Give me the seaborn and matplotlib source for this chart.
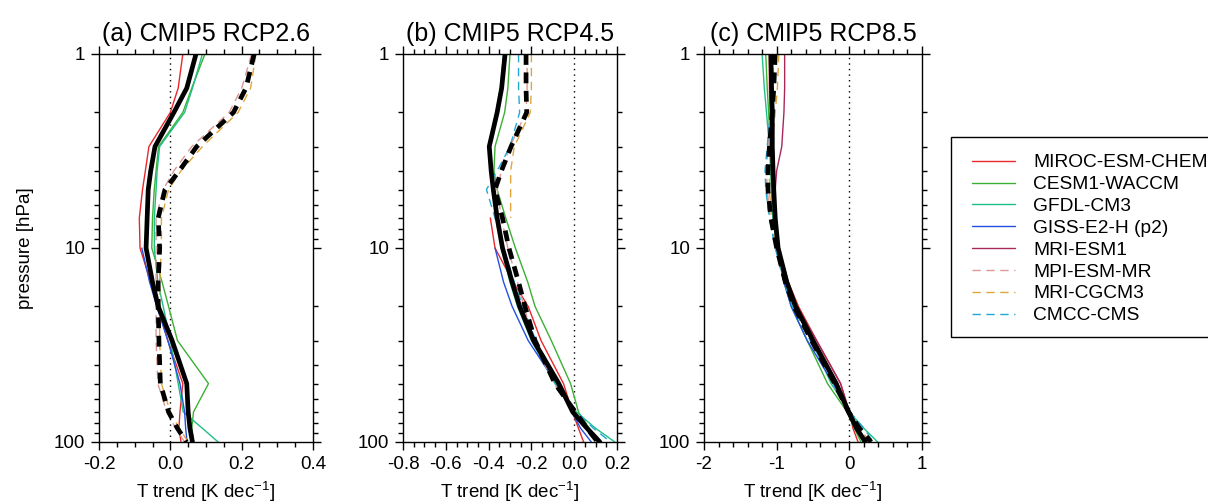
import numpy as np
import pandas as pd
import matplotlib
matplotlib.use("Agg")
import matplotlib.pyplot as plt
import matplotlib.ticker as mticker
from matplotlib.lines import Line2D
from matplotlib.patches import Rectangle
import seaborn as sns

nan = np.nan

# ---------------- data ----------------
pressure = [1, 1.5, 2, 3, 4, 5, 7, 10, 15, 20, 30, 50, 70, 85, 100]

models = ["MIROC-ESM-CHEM", "CESM1-WACCM", "GFDL-CM3", "GISS-E2-H (p2)",
          "MRI-ESM1", "MPI-ESM-MR", "MRI-CGCM3", "CMCC-CMS"]
model_colors = ["#e8282c", "#3cb034", "#1fbf86", "#2450e0",
                "#a8285a", "#dc9898", "#e0a63a", "#22a8d2"]
model_dashed = [False, False, False, False, False, True, True, True]

titles = ["(a) CMIP5 RCP2.6", "(b) CMIP5 RCP4.5", "(c) CMIP5 RCP8.5"]

rcp26 = {
    "MIROC-ESM-CHEM": [0.035, 0.022, 0.0, -0.06, -0.07, -0.078, -0.087, -0.085, -0.055, -0.035, -0.007, 0.035, 0.027, 0.024, 0.03],
    "CESM1-WACCM":    [0.097, 0.06, 0.035, -0.033, -0.04, -0.045, -0.05, -0.052, -0.023, -0.005, 0.02, 0.107, 0.065, 0.06, 0.065],
    "GFDL-CM3":       [0.09, 0.062, 0.04, -0.03, -0.037, -0.04, -0.045, -0.045, -0.035, -0.02, 0.0, 0.022, 0.036, 0.09, 0.134],
    "GISS-E2-H (p2)": [nan, nan, nan, nan, nan, nan, nan, -0.08, -0.058, -0.038, -0.007, 0.027, 0.04, 0.043, 0.047],
    "MPI-ESM-MR":     [0.228, 0.2, 0.165, 0.06, 0.01, -0.02, -0.04, -0.04, -0.04, -0.04, -0.04, -0.035, -0.01, 0.015, 0.04],
    "MRI-CGCM3":      [0.24, 0.225, 0.19, 0.09, 0.03, -0.005, -0.025, -0.025, -0.03, -0.03, -0.03, -0.025, 0.0, 0.025, 0.05],
}
rcp26_mean_solid = [0.072, 0.046, 0.01, -0.043, -0.055, -0.062, -0.065, -0.068, -0.05, -0.034, 0.005, 0.046, 0.05, 0.055, 0.062]
rcp26_mean_dashed = [0.235, 0.212, 0.177, 0.074, 0.025, -0.015, -0.034, -0.03, -0.034, -0.034, -0.032, -0.028, -0.005, 0.02, 0.045]

rcp45 = {
    "MIROC-ESM-CHEM": [nan, nan, nan, nan, nan, nan, -0.392, -0.37, -0.285, -0.215, -0.155, -0.05, -0.008, 0.02, 0.044],
    "CESM1-WACCM":    [-0.3, -0.31, -0.325, -0.37, -0.375, -0.36, -0.32, -0.275, -0.217, -0.183, -0.107, -0.017, 0.02, 0.07, 0.12],
    "GFDL-CM3":       [-0.33, -0.345, -0.365, -0.4, -0.39, -0.38, -0.36, -0.34, -0.3, -0.265, -0.2, -0.09, 0.01, 0.1, 0.19],
    "GISS-E2-H (p2)": [nan, nan, nan, nan, nan, nan, nan, -0.37, -0.33, -0.29, -0.215, -0.083, -0.01, 0.03, 0.08],
    "MPI-ESM-MR":     [-0.22, -0.22, -0.225, -0.3, -0.34, -0.36, -0.34, -0.31, -0.265, -0.235, -0.19, -0.095, 0.0, 0.05, 0.1],
    "MRI-CGCM3":      [-0.2, -0.2, -0.205, -0.28, -0.297, -0.297, -0.297, nan, nan, nan, nan, nan, nan, nan, nan],
    "CMCC-CMS":       [-0.26, -0.26, -0.255, -0.3, -0.36, -0.41, -0.37, -0.33, -0.28, -0.24, -0.18, -0.085, 0.01, 0.09, 0.17],
}
rcp45_mean_solid = [-0.323, -0.339, -0.36, -0.397, -0.388, -0.378, -0.36, -0.335, -0.29, -0.255, -0.19, -0.072, -0.007, 0.06, 0.12]
rcp45_mean_dashed = [-0.225, -0.225, -0.222, -0.295, -0.34, -0.37, -0.335, -0.305, -0.26, -0.23, -0.183, -0.09, 0.005, 0.06, 0.11]

rcp85 = {
    "MIROC-ESM-CHEM": [-1.1, -1.1, -1.09, -1.08, -1.07, -1.06, -1.04, -0.97, -0.84, -0.7, -0.45, -0.12, 0.0, 0.05, 0.12],
    "CESM1-WACCM":    [-1.15, -1.13, -1.11, -1.09, -1.08, -1.07, -1.05, -1.0, -0.9, -0.8, -0.58, -0.3, -0.03, 0.07, 0.16],
    "GFDL-CM3":       [-1.2, -1.17, -1.14, -1.1, -1.08, -1.07, -1.05, -1.0, -0.88, -0.76, -0.52, -0.25, 0.0, 0.2, 0.39],
    "GISS-E2-H (p2)": [nan, nan, nan, nan, nan, nan, nan, -1.0, -0.9, -0.8, -0.58, -0.22, -0.02, 0.1, 0.22],
    "MRI-ESM1":       [-0.89, -0.89, -0.9, -0.93, -1.0, -1.02, -1.02, -0.97, -0.85, -0.72, -0.45, -0.12, 0.0, 0.08, 0.2],
    "MPI-ESM-MR":     [-1.04, -1.06, -1.08, -1.12, -1.14, -1.13, -1.09, -1.01, -0.89, -0.77, -0.53, -0.21, -0.01, 0.13, 0.28],
    "MRI-CGCM3":      [-0.97, -0.99, -1.02, -1.07, -1.1, -1.1, -1.07, -1.0, -0.88, -0.76, -0.52, -0.2, -0.01, 0.13, 0.29],
    "CMCC-CMS":       [-1.05, -1.07, -1.09, -1.13, -1.16, -1.15, -1.1, -1.02, -0.9, -0.78, -0.54, -0.2, 0.01, 0.2, 0.33],
}
rcp85_mean_solid = [-1.08, -1.07, -1.06, -1.06, -1.05, -1.04, -1.02, -0.98, -0.86, -0.74, -0.5, -0.18, -0.01, 0.1, 0.22]
rcp85_mean_dashed = [-1.02, -1.04, -1.06, -1.1, -1.12, -1.12, -1.08, -1.0, -0.88, -0.76, -0.52, -0.2, -0.01, 0.14, 0.3]

panels = [
    (rcp26, rcp26_mean_solid, rcp26_mean_dashed, (-0.2, 0.4), 0.2, 0.05, ["-0.2", "0.0", "0.2", "0.4"]),
    (rcp45, rcp45_mean_solid, rcp45_mean_dashed, (-0.8, 0.2), 0.2, 0.05, ["-0.8", "-0.6", "-0.4", "-0.2", "0.0", "0.2"]),
    (rcp85, rcp85_mean_solid, rcp85_mean_dashed, (-2, 1), 1.0, 0.2, ["-2", "-1", "0", "1"]),
]

# ---------------- style ----------------
sns.set_theme(style="ticks")
plt.rcParams["font.family"] = ["Liberation Sans", "DejaVu Sans"]
plt.rcParams["mathtext.fontset"] = "custom"
plt.rcParams["mathtext.rm"] = "Liberation Sans"
plt.rcParams["mathtext.it"] = "Liberation Sans:italic"
plt.rcParams["text.color"] = "black"
plt.rcParams["axes.labelcolor"] = "black"
plt.rcParams["xtick.color"] = "black"
plt.rcParams["ytick.color"] = "black"
plt.rcParams["axes.edgecolor"] = "black"
plt.rcParams["axes.linewidth"] = 1.0

W, H = 1208, 504
fig = plt.figure(figsize=(W / 100, H / 100), dpi=100)

ax_px = [(99, 313), (403, 617), (704, 922)]
top_px, bot_px = 54, 442

thin_lw = 1.0
thick_lw = 3.4
dash_thin = (6, 4)
dash_thick = (2.3, 1.6)
fs_tick = 13.5

for i, (data, msolid, mdashed, xlim, major, minor, xlabels) in enumerate(panels):
    l, r = ax_px[i]
    ax = fig.add_axes([l / W, 1 - bot_px / H, (r - l) / W, (bot_px - top_px) / H])

    for name, color, dashed in zip(models, model_colors, model_dashed):
        if name not in data:
            continue
        df = pd.DataFrame({"T": data[name], "p": pressure}).dropna()
        sns.lineplot(data=df, x="T", y="p", sort=False, estimator=None, ax=ax,
                     color=color, lw=thin_lw)
        if dashed:
            ax.lines[-1].set_dashes(dash_thin)

    dfm = pd.DataFrame({"T": msolid, "p": pressure})
    sns.lineplot(data=dfm, x="T", y="p", sort=False, estimator=None, ax=ax,
                 color="black", lw=thick_lw)
    dfd = pd.DataFrame({"T": mdashed, "p": pressure})
    sns.lineplot(data=dfd, x="T", y="p", sort=False, estimator=None, ax=ax,
                 color="black", lw=thick_lw)
    ax.lines[-1].set_dashes(dash_thick)

    ax.axvline(0, color="black", lw=1.0, ls=(0, (1, 3)), zorder=0)

    ax.set_yscale("log")
    ax.set_ylim(100, 1)
    ax.set_xlim(*xlim)
    ax.yaxis.set_major_locator(mticker.FixedLocator([1, 10, 100]))
    ax.yaxis.set_major_formatter(mticker.FixedFormatter(["1", "10", "100"]))
    ax.yaxis.set_minor_locator(mticker.LogLocator(base=10, subs=np.arange(2, 10)))
    ax.yaxis.set_minor_formatter(mticker.NullFormatter())
    xt = np.arange(xlim[0], xlim[1] + major / 2, major)
    ax.xaxis.set_major_locator(mticker.FixedLocator(xt))
    ax.xaxis.set_major_formatter(mticker.FixedFormatter(xlabels))
    ax.xaxis.set_minor_locator(mticker.MultipleLocator(minor))

    ax.tick_params(which="both", top=True, right=True, direction="out", color="black", width=1.0)
    ax.tick_params(which="major", length=6, labelsize=fs_tick, pad=4, labelcolor="black")
    ax.tick_params(which="minor", length=3.5)
    for s in ax.spines.values():
        s.set_visible(True)
        s.set_color("black")

    ax.set_xlabel("T trend [K dec$^{-1}$]", fontsize=13.5, labelpad=5, color="black")
    ax.set_ylabel("pressure [hPa]" if i == 0 else "", fontsize=13.5, labelpad=14, color="black")
    ax.set_title(titles[i], fontsize=18, pad=9, color="black")

handles = []
for name, color, dashed in zip(models, model_colors, model_dashed):
    h = Line2D([0], [0], color=color, lw=thin_lw)
    if dashed:
        h.set_dashes(dash_thin)
    handles.append(h)

# legend box (extends past the right edge, as in the reference)
fig.patches.append(Rectangle((951 / W, 1 - 337 / H), 400 / W, 200 / H,
                             transform=fig.transFigure, fill=False,
                             edgecolor="black", lw=1.0, zorder=5))

fs_leg = 13.8
fs_px = fs_leg * 100 / 72
leg = fig.legend(handles, models, loc="upper left",
                 bbox_to_anchor=((972 - 0.5 * fs_px) / W, 1 - (163 - 0.5 * 17.9 - 0.5 * fs_px) / H),
                 bbox_transform=fig.transFigure,
                 fontsize=fs_leg, frameon=False,
                 handlelength=2.24, handletextpad=0.94, labelspacing=0.23,
                 borderpad=0.5, borderaxespad=0)
for t in leg.get_texts():
    t.set_color("black")

fig.savefig("out.png", dpi=100)
